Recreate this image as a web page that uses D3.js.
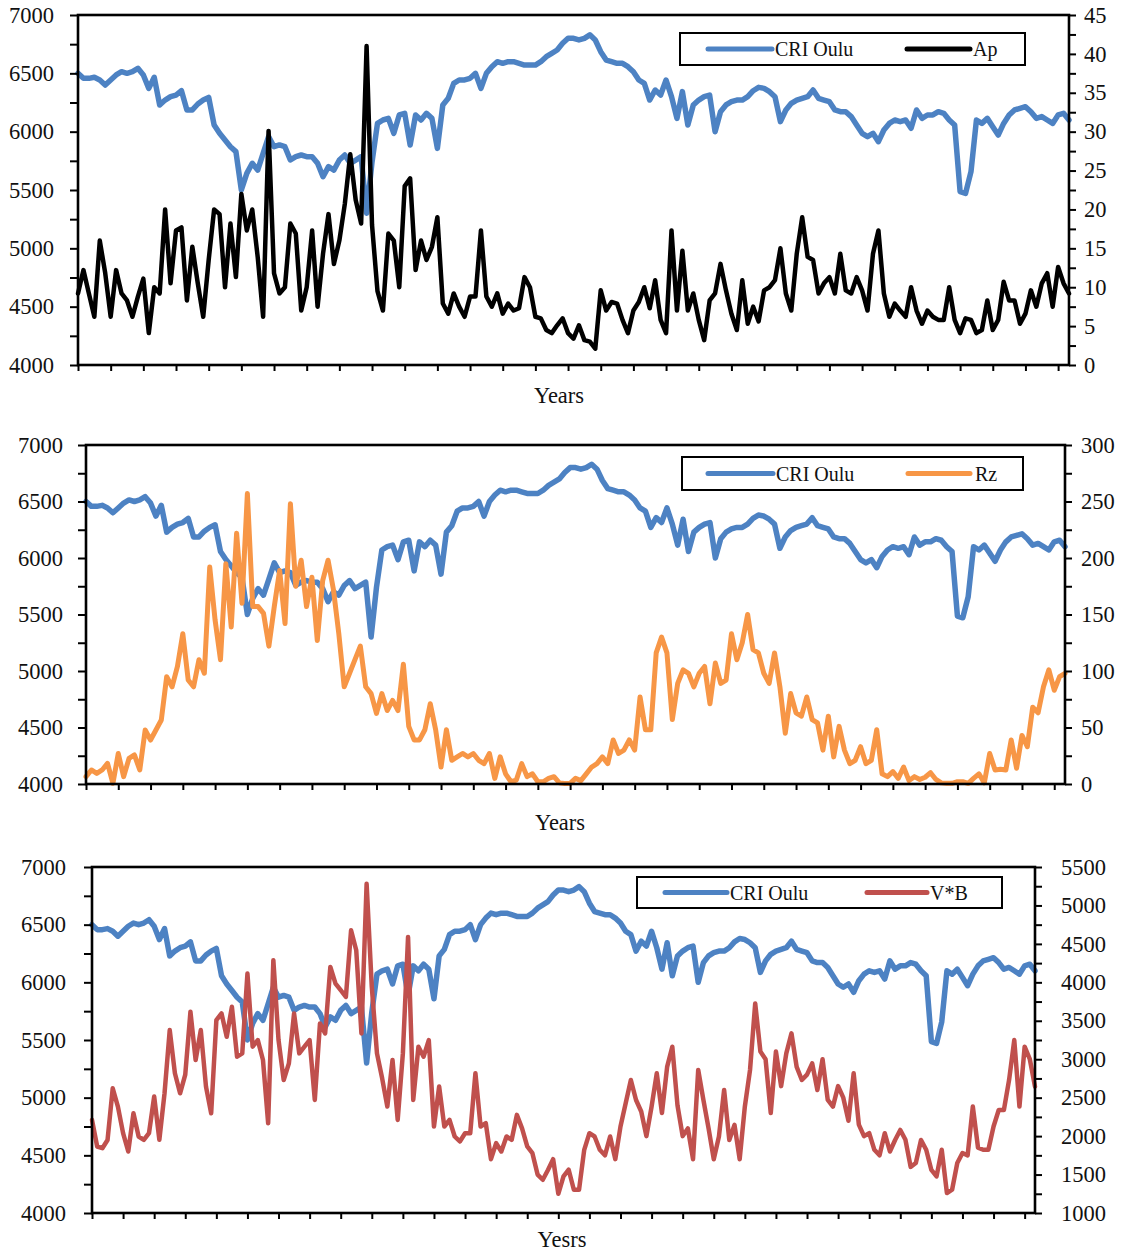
<!DOCTYPE html>
<html>
<head>
<meta charset="utf-8">
<script src="https://cdn.jsdelivr.net/npm/d3@7"></script>
<style>
  body { margin: 0; background: #fff; }
  svg { display: block; }
  text { font-family: "Liberation Serif", "Times New Roman", serif; fill: #111; }
</style>
</head>
<body>
<svg id="chart" width="1123" height="1252"></svg>
<script>
// Monthly series (index = month step along the category axis)
const criOulu = [
  6500,6457,6457,6466,6443,6400,6443,6486,6514,6500,6514,6543,6486,6371,6466,6229,6271,6300,6314,6351,
  6186,6186,6237,6271,6294,6057,5986,5929,5871,5829,5500,5643,5729,5671,5814,5957,5871,5886,5871,5757,
  5786,5800,5786,5786,5729,5614,5700,5671,5757,5800,5729,5757,5786,5300,5740,6071,6100,6114,5986,6143,
  6157,5886,6143,6100,6157,6114,5857,6229,6286,6414,6443,6443,6457,6500,6371,6500,6557,6600,6586,6600,
  6600,6586,6571,6571,6571,6600,6643,6671,6700,6757,6800,6800,6786,6800,6830,6786,6686,6614,6600,6586,
  6586,6557,6514,6443,6414,6271,6357,6314,6443,6300,6114,6343,6057,6229,6271,6300,6314,6000,6171,6229,
  6257,6271,6271,6300,6351,6380,6371,6343,6300,6086,6186,6243,6271,6286,6300,6357,6286,6271,6257,6186,
  6171,6171,6129,6057,5986,5957,5986,5914,6014,6071,6100,6086,6100,6029,6186,6114,6143,6143,6171,6157,
  6100,6057,5486,5471,5657,6100,6071,6114,6043,5971,6071,6143,6186,6200,6214,6171,6114,6129,6100,6071,
  6143,6157,6100
];
const ap = [
  9.2,12.2,9.2,6.2,16,11.8,6.2,12.2,9.2,8.3,6.2,8.8,11.1,4.1,10,9.2,20,10.5,17.3,17.7,
  8.3,15.2,10.5,6.2,13.5,20,19.4,10,18.2,11.3,22,17.3,20,13.9,6.2,30.1,11.8,9.2,10,18.2,
  16.9,7,10,17.3,7.5,14.3,19.4,13,16,20.7,27.1,21.2,18.2,41,18,9.5,7,16.9,16,10,
  23,24,12.2,16,13.5,15.2,19,7.9,6.6,9.2,7.5,6.2,8.8,8.8,17.3,8.8,7.5,9.2,6.6,7.9,
  7,7.3,11.3,10,6.2,6,4.5,4.1,5.1,6,4.1,3.4,5.1,3.2,3,2.1,9.6,7,8.1,7.9,
  5.8,4.1,7,8.1,10,7.3,10.9,5.8,4.1,17.3,7,14.7,7,9.2,5.8,3.2,8.3,9.2,13,9.6,
  6.6,4.5,10.9,5.3,7.5,5.6,9.6,10,10.9,15,9.2,7,14.3,19,13.9,13.5,9.2,10.5,11.3,9.2,
  14.3,9.6,9.2,11.3,9.6,7,14.3,17.3,9.2,6.2,7.9,7,6.2,10,7,5.3,7,6.2,5.8,5.8,
  10,5.8,4.1,6,5.8,4.1,4.5,8.3,4.5,5.8,10.7,8.3,8.3,5.3,6.6,9.6,7.5,10.5,11.8,7.5,
  12.6,10.5,9.2
];
const rz = [
  6.5,12.4,9.4,12.4,18.3,0.6,27,6.5,22.7,25.7,12.4,47.8,38.9,47.8,56.6,95,86,104,133,92,
  86,110,98,192,145,110,195,139,222,160,257,157,157,151,122,157,189,142,248,175,
  198,157,183,127,180,198,172,133,86,98,110,122,86,80,62.5,80,65,74,65,106,
  51,39,39,48,71,48,15,48,21,24,27,24,27,21,18,27,5,24,9,2,
  3.5,18,6.5,9,2,2,5,6.5,1,0.5,0.5,5,3,9,15,18,24,18,39,27,
  30,39,30,77,48,48,116,130,116,57,89,101,98,86,98,104,71,107,89,92,
  133,110,125,150,119,116,98,89,116,86,45,80,63,60,77,57,54,30,60,24,
  51,30,18,21,33,18,21,48,9,6.5,11,5,15,3,6.5,4,6,10,4,1,
  0.6,0.6,2,2,0.6,5,9,1,27,12.4,13,12.4,39,14,43,33,68,63,86,101,
  83,95,98
];
const vb = [
  2211,1865,1843,1950,2622,2384,2038,1800,2298,1995,1952,2038,2514,1952,2557,3379,2817,2557,2800,3617,
  2990,3379,2644,2298,3509,3595,3292,3682,3033,3076,4114,3163,3249,2990,2168,4287,3249,2730,2946,3595,
  3076,3163,3249,2471,3466,3336,4200,3984,3898,3811,4676,4417,3336,5282,3941,3076,2752,2384,2990,2211,
  3076,4590,2471,3163,3033,3249,2125,2644,2125,2211,1995,1930,2038,2038,2817,2125,2168,1700,1908,1800,
  1995,1952,2276,2100,1865,1778,1500,1432,1560,1700,1250,1476,1563,1303,1303,1822,2038,1995,1822,1750,
  1995,1700,2125,2427,2730,2470,2320,2000,2384,2817,2300,2900,3163,2400,2000,2100,1700,2860,2471,2100,
  1700,1995,2600,1950,2146,1700,2384,2860,3725,3100,3000,2300,3100,2650,3076,3336,2900,2730,2800,2946,
  2600,3000,2470,2384,2650,2500,2200,2817,2150,2000,2038,1822,1750,2038,1800,1950,2080,1952,1600,1650,
  1950,1822,1560,1476,1822,1260,1303,1650,1780,1750,2384,1850,1822,1822,2125,2340,2340,2730,3249,2384,
  3163,3000,2644
];

// Axis tick values
const criTicks = [4000, 4500, 5000, 5500, 6000, 6500, 7000];
const apTicks = [0, 5, 10, 15, 20, 25, 30, 35, 40, 45];
const rzTicks = [0, 50, 100, 150, 200, 250, 300];
const vbTicks = [1000, 1500, 2000, 2500, 3000, 3500, 4000, 4500, 5000, 5500];
const xTickStep = 6;

// Labels
const criName = "CRI Oulu";
const secondaryNames = ["Ap", "Rz", "V*B"];
const xTitles = ["Years", "Years", "Yesrs"];

const N = criOulu.length;
const svg = d3.select("#chart");
const BLUE = "#4d82c3";
const TICK_FONT = 22.5;

const panels = [
  { data: ap, name: secondaryNames[0], ticks: apTicks, color: "#000000", width: 4.5, title: xTitles[0],
    left: 78, right: 1069, top: 15, bottom: 365, lPad: 16, rPad: 8,
    legend: { x0: 680, x1: 1025, y0: 33, y1: 65, l1: [708, 772], t1: 775, l2: [907, 970], t2: 973 },
    titleX: 559, titleY: 403 },
  { data: rz, name: secondaryNames[1], ticks: rzTicks, color: "#f79646", width: 5, title: xTitles[1],
    left: 86, right: 1065, top: 445, bottom: 784, lPad: 15, rPad: 9,
    legend: { x0: 682, x1: 1023, y0: 457, y1: 490, l1: [708, 773], t1: 776, l2: [908, 970], t2: 975 },
    titleX: 560, titleY: 830 },
  { data: vb, name: secondaryNames[2], ticks: vbTicks, color: "#c0504d", width: 4.5, title: xTitles[2],
    left: 92, right: 1035, top: 867, bottom: 1213, lPad: 18, rPad: 19,
    legend: { x0: 637, x1: 1002, y0: 877, y1: 908, l1: [665, 727], t1: 730, l2: [867, 927], t2: 930 },
    titleX: 562, titleY: 1247 }
];

function midpoints(t) {
  const out = [];
  for (let k = 0; k < t.length - 1; k++) out.push((t[k] + t[k + 1]) / 2);
  return out;
}

panels.forEach(p => {
  const g = svg.append("g");
  const x = d3.scaleLinear().domain([0, N - 1]).range([p.left, p.right]);
  const yL = d3.scaleLinear().domain([criTicks[0], criTicks[criTicks.length - 1]]).range([p.bottom, p.top]);
  const yR = d3.scaleLinear().domain([p.ticks[0], p.ticks[p.ticks.length - 1]]).range([p.bottom, p.top]);

  // series lines: cosmic ray intensity first, the second quantity above it
  g.append("path")
    .datum(criOulu)
    .attr("fill", "none").attr("stroke", BLUE).attr("stroke-width", 5.5)
    .attr("stroke-linejoin", "round").attr("stroke-linecap", "round")
    .attr("d", d3.line().x((d, i) => x(i)).y(d => yL(d)));
  g.append("path")
    .datum(p.data)
    .attr("fill", "none").attr("stroke", p.color).attr("stroke-width", p.width)
    .attr("stroke-linejoin", "round").attr("stroke-linecap", "round")
    .attr("d", d3.line().x((d, i) => x(i)).y(d => yR(d)));

  // left axis (major + minor ticks)
  g.append("g").attr("transform", `translate(${p.left},0)`)
    .call(d3.axisLeft(yL).tickValues(criTicks).tickSize(8).tickPadding(p.lPad).tickFormat(d3.format("d")));
  g.append("g").attr("transform", `translate(${p.left},0)`)
    .call(d3.axisLeft(yL).tickValues(midpoints(criTicks)).tickSize(8).tickFormat(""));

  // right axis (major + minor ticks)
  g.append("g").attr("transform", `translate(${p.right},0)`)
    .call(d3.axisRight(yR).tickValues(p.ticks).tickSize(7).tickPadding(p.rPad).tickFormat(d3.format("d")));
  g.append("g").attr("transform", `translate(${p.right},0)`)
    .call(d3.axisRight(yR).tickValues(midpoints(p.ticks)).tickSize(7).tickFormat(""));

  // bottom category ticks
  g.append("g").attr("transform", `translate(0,${p.bottom})`)
    .call(d3.axisBottom(x).tickValues(d3.range(0, N, xTickStep)).tickSize(6).tickFormat(""));

  g.selectAll(".domain").remove();
  g.selectAll(".tick line").attr("stroke", "#000").attr("stroke-width", 2);
  g.selectAll(".tick text").attr("font-size", TICK_FONT).attr("fill", "#111")
    .style("font-family", '"Liberation Serif", "Times New Roman", serif');

  // plot frame
  g.append("rect")
    .attr("x", p.left).attr("y", p.top)
    .attr("width", p.right - p.left).attr("height", p.bottom - p.top)
    .attr("fill", "none").attr("stroke", "#000").attr("stroke-width", 2.6);

  // x axis title
  g.append("text")
    .attr("x", p.titleX).attr("y", p.titleY)
    .attr("text-anchor", "middle").attr("font-size", TICK_FONT)
    .text(p.title);

  // legend
  const L = p.legend, cy = (L.y0 + L.y1) / 2;
  g.append("rect").attr("x", L.x0).attr("y", L.y0)
    .attr("width", L.x1 - L.x0).attr("height", L.y1 - L.y0)
    .attr("fill", "#fff").attr("stroke", "#000").attr("stroke-width", 2);
  g.append("line").attr("x1", L.l1[0]).attr("x2", L.l1[1]).attr("y1", cy).attr("y2", cy)
    .attr("stroke", BLUE).attr("stroke-width", 5).attr("stroke-linecap", "round");
  g.append("text").attr("x", L.t1).attr("y", cy).attr("dy", "0.35em")
    .attr("font-size", 20).text(criName);
  g.append("line").attr("x1", L.l2[0]).attr("x2", L.l2[1]).attr("y1", cy).attr("y2", cy)
    .attr("stroke", p.color).attr("stroke-width", 5).attr("stroke-linecap", "round");
  g.append("text").attr("x", L.t2).attr("y", cy).attr("dy", "0.35em")
    .attr("font-size", 20).text(p.name);
});
</script>
</body>
</html>
